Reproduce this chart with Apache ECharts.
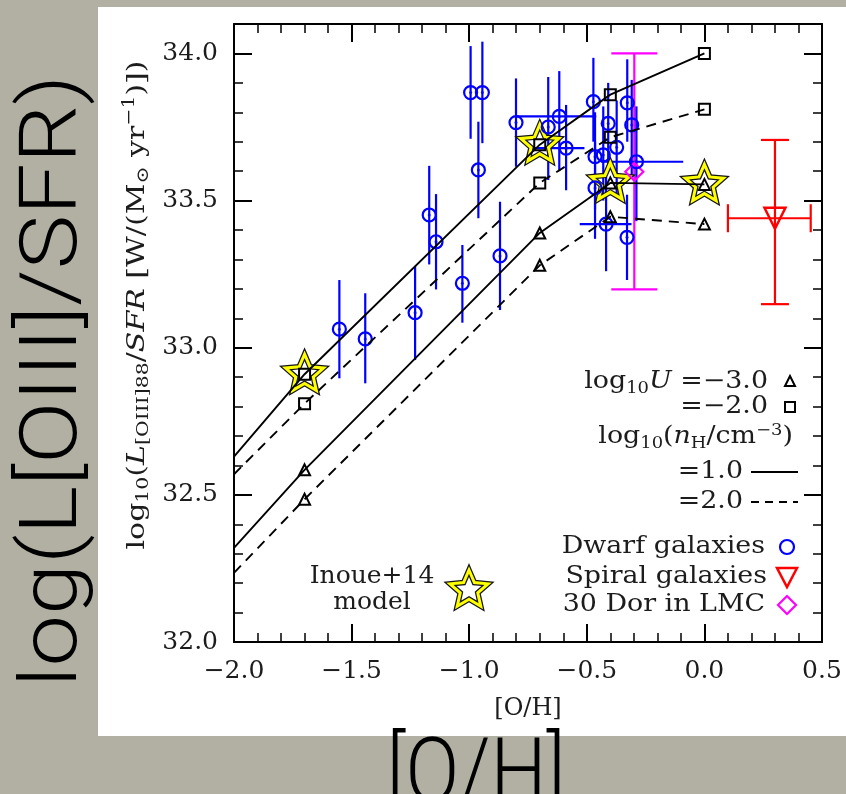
<!DOCTYPE html>
<html>
<head>
<meta charset="utf-8">
<script src="https://cdn.jsdelivr.net/npm/echarts@6/dist/echarts.min.js"></script>
<style>
  html, body { margin: 0; padding: 0; background: #b2b0a2; }
  #main { width: 846px; height: 794px; }
</style>
</head>
<body>
<div id="main"></div>
<script>
// model grid (Inoue+14 style curves)
var modelX = [-2.0, -1.7, -0.7, -0.4, 0.0];
var lineU2n1 = [32.63, 32.91, 33.69, 33.86, 34.00];   // logU=-2, nH=1 (solid)
var lineU2n2 = [32.57, 32.81, 33.56, 33.715, 33.81];  // logU=-2, nH=2 (dashed)
var lineU3n1 = [32.32, 32.585, 33.39, 33.56, 33.555]; // logU=-3, nH=1 (solid)
var lineU3n2 = [32.235, 32.485, 33.28, 33.445, 33.42]; // logU=-3, nH=2 (dashed)

var inoueX = [-1.7, -0.7, -0.4, 0.0];
var inoueY = [32.91, 33.69, 33.56, 33.555];

// dwarf galaxies
var dwarfX   = [-1.552, -1.442, -1.230, -1.170, -1.141, -1.029, -0.994, -0.961, -0.944, -0.869, -0.801, -0.664, -0.617, -0.588, -0.472, -0.465, -0.465, -0.430, -0.418, -0.409, -0.373, -0.329, -0.328, -0.309, -0.289];
var dwarfY   = [33.063, 33.030, 33.119, 33.451, 33.360, 33.219, 33.867, 33.604, 33.867, 33.312, 33.765, 33.750, 33.786, 33.678, 33.836, 33.649, 33.543, 33.655, 33.420, 33.762, 33.681, 33.375, 33.832, 33.757, 33.632];
var dwarfYLo = [32.896, 32.879, 32.958, 33.283, 33.198, 33.085, 33.710, 33.440, 33.695, 33.128, 33.615, 33.570, 33.600, 33.535, 33.700, 33.470, 33.370, 33.500, 33.260, 33.600, 33.520, 33.230, 33.700, 33.580, 33.430];
var dwarfYHi = [33.230, 33.185, 33.278, 33.618, 33.522, 33.349, 34.025, 33.768, 34.040, 33.496, 33.915, 33.920, 33.940, 33.825, 33.985, 33.800, 33.700, 33.820, 33.580, 33.900, 33.840, 33.520, 33.980, 33.910, 33.820];
var dwarfXLo = [null, null, null, null, null, null, null, null, null, null, null, null, -0.80, -0.74, null, null, null, null, -0.53, null, null, null, null, null, -0.44];
var dwarfXHi = [null, null, null, null, null, null, null, null, null, null, null, null, -0.46, -0.51, null, null, null, null, -0.31, null, null, null, null, null, -0.09];

// spiral galaxies
var spiralX = [0.30], spiralY = [33.44];
var spiralYLo = [33.148], spiralYHi = [33.706];
var spiralXLo = [0.10], spiralXHi = [0.452];

// 30 Dor in LMC
var dorX = [-0.298], dorY = [33.598];
var dorYLo = [33.198], dorYHi = [34.0];

var xTicks = [-2.0, -1.5, -1.0, -0.5, 0.0, 0.5];
var yTicks = [32.0, 32.5, 33.0, 33.5, 34.0];

var SERIF = 'DejaVu Serif';
var TXT = '#1c1c1c';

function pairs(xs, ys) { return xs.map(function (x, i) { return [x, ys[i]]; }); }

// 5 point star outline, unit radius 100
var starPts = [];
for (var k = 0; k < 10; k++) {
  var a = (-90 + 36 * k) * Math.PI / 180, r = k % 2 ? 46 : 100;
  starPts.push([r * Math.cos(a), r * Math.sin(a)]);
}
function starPoly(cx, cy, R) { return starPts.map(function (p) { return [cx + p[0] * R / 100, cy + p[1] * R / 100]; }); }
function starShapes(cx, cy, R) {
  return [
    { type: 'polygon', shape: { points: starPoly(cx, cy, R) }, style: { fill: 'none', stroke: '#151515', lineWidth: 5.5, lineJoin: 'miter' } },
    { type: 'polygon', shape: { points: starPoly(cx, cy, R) }, style: { fill: 'none', stroke: '#ffff00', lineWidth: 3, lineJoin: 'miter' } }
  ];
}

function errBars(xs, ys, lo, hi, xlo, xhi, color, cap) {
  return {
    type: 'custom', silent: true,
    data: pairs(xs, ys),
    renderItem: function (params, api) {
      var i = params.dataIndex, kids = [];
      var st = { stroke: color, lineWidth: 2.2 };
      var a = api.coord([xs[i], lo[i]]), b = api.coord([xs[i], hi[i]]);
      kids.push({ type: 'line', shape: { x1: a[0], y1: a[1], x2: b[0], y2: b[1] }, style: st });
      if (cap) {
        kids.push({ type: 'line', shape: { x1: a[0] - cap, y1: a[1], x2: a[0] + cap, y2: a[1] }, style: st });
        kids.push({ type: 'line', shape: { x1: b[0] - cap, y1: b[1], x2: b[0] + cap, y2: b[1] }, style: st });
      }
      if (xlo && xlo[i] != null) {
        var c = api.coord([xlo[i], ys[i]]), d = api.coord([xhi[i], ys[i]]);
        kids.push({ type: 'line', shape: { x1: c[0], y1: c[1], x2: d[0], y2: d[1] }, style: st });
        if (cap) {
          kids.push({ type: 'line', shape: { x1: c[0], y1: c[1] - cap, x2: c[0], y2: c[1] + cap }, style: st });
          kids.push({ type: 'line', shape: { x1: d[0], y1: d[1] - cap, x2: d[0], y2: d[1] + cap }, style: st });
        }
      }
      return { type: 'group', children: kids };
    }
  };
}

function modelLine(ys, dashed) {
  return {
    type: 'line', data: pairs(modelX, ys), showSymbol: false, silent: true,
    lineStyle: { color: '#000', width: 1.9, type: dashed ? [10, 7] : 'solid' }
  };
}

function hollow(xs, ys, symbol, size, color, width) {
  return {
    type: 'scatter', data: pairs(xs, ys), symbol: symbol, symbolSize: size, silent: true,
    itemStyle: { color: 'rgba(0,0,0,0)', borderColor: color, borderWidth: width, opacity: 1 }
  };
}

var fmt = function (v) { return v.toFixed(1).replace('-', '\u2212'); };

function xAx(pos) {
  return {
    type: 'value', min: xTicks[0], max: xTicks[xTicks.length - 1], interval: 0.5, position: pos,
    axisLine: { show: true, onZero: false, lineStyle: { color: '#000', width: 2 } },
    axisTick: { inside: true, length: 18, lineStyle: { color: '#000', width: 2 } },
    minorTick: { show: true, splitNumber: 5, length: 9, lineStyle: { color: '#000', width: 1.5 } },
    splitLine: { show: false },
    axisLabel: { show: pos === 'bottom', margin: 17, fontFamily: SERIF, fontSize: 25, color: TXT, formatter: fmt },
    name: pos === 'bottom' ? '[O/H]' : '', nameLocation: 'middle', nameGap: 55,
    nameTextStyle: { fontFamily: SERIF, fontSize: 24, color: TXT }
  };
}
function yAx(pos, step, len, line) {
  return {
    type: 'value', min: yTicks[0], max: 34.1, interval: step, position: pos,
    axisLine: { show: line, onZero: false, lineStyle: { color: '#000', width: 2 } },
    axisTick: { inside: true, length: len, lineStyle: { color: '#000', width: step > 0.2 ? 2 : 1.5 } },
    splitLine: { show: false },
    axisLabel: {
      show: line && pos === 'left', margin: 16, fontFamily: SERIF, fontSize: 25, color: TXT,
      showMaxLabel: false, formatter: fmt
    }
  };
}

var richTitle = {
  t: { fontFamily: SERIF, fontSize: 25, fill: TXT },
  i: { fontFamily: SERIF, fontSize: 25, fontStyle: 'italic', fill: TXT },
  s: { fontFamily: SERIF, fontSize: 17, fill: TXT, padding: [14, 0, 0, 0] },
  p: { fontFamily: SERIF, fontSize: 17, fill: TXT, padding: [0, 0, 14, 0] }
};
var richLeg = {
  t: { fontFamily: SERIF, fontSize: 24, fill: TXT },
  i: { fontFamily: SERIF, fontSize: 24, fontStyle: 'italic', fill: TXT },
  s: { fontFamily: SERIF, fontSize: 16, fill: TXT, padding: [13, 0, 0, 0] },
  p: { fontFamily: SERIF, fontSize: 16, fill: TXT, padding: [0, 0, 13, 0] }
};

function legText(str, x, y) {
  return {
    type: 'text', x: x, y: y, z: 50, scaleX: 1.12,
    style: { text: str, rich: richLeg, fontFamily: SERIF, fontSize: 24, fill: TXT,
      align: 'right', verticalAlign: 'middle', textAlign: 'right', textVerticalAlign: 'middle' }
  };
}
function poly(points, color, w) {
  return { type: 'polygon', z: 50, shape: { points: points }, style: { fill: 'none', stroke: color, lineWidth: w } };
}

var chart = echarts.init(document.getElementById('main'), null, { renderer: 'canvas' });
chart.setOption({
  animation: false,
  backgroundColor: '#b2b0a2',
  grid: { left: 234, top: 24, width: 588, height: 618 },
  xAxis: [xAx('bottom'), xAx('top')],
  yAxis: [yAx('left', 0.5, 18, true), yAx('left', 0.1, 9, false), yAx('right', 0.5, 18, true), yAx('right', 0.1, 9, false)],
  series: [
    errBars(dorX, dorY, dorYLo, dorYHi, null, null, '#ff00ff', 23),
    hollow(dorX, dorY, 'diamond', 18, '#ff00ff', 2.2),
    errBars(dwarfX, dwarfY, dwarfYLo, dwarfYHi, dwarfXLo, dwarfXHi, '#0000ff', 0),
    hollow(dwarfX, dwarfY, 'circle', 13, '#0000ff', 2.2),
    { type: 'scatter', data: pairs(dwarfX, dwarfY), symbol: 'circle', symbolSize: 3, silent: true, itemStyle: { color: '#0000ff' } },
    errBars(spiralX, spiralY, spiralYLo, spiralYHi, spiralXLo, spiralXHi, '#ff0000', 14),
    Object.assign(hollow(spiralX, spiralY, 'triangle', 21, '#ff0000', 2.5), { symbolRotate: 180 }),
    modelLine(lineU2n1, false),
    modelLine(lineU2n2, true),
    modelLine(lineU3n1, false),
    modelLine(lineU3n2, true),
    {
      type: 'custom', silent: true, data: pairs(inoueX, inoueY),
      renderItem: function (params, api) {
        var c = api.coord([inoueX[params.dataIndex], inoueY[params.dataIndex]]);
        return { type: 'group', children: starShapes(c[0], c[1], 20) };
      }
    },
    hollow(modelX.slice(1), lineU2n1.slice(1), 'rect', 11, '#000', 2),
    hollow(modelX.slice(1), lineU2n2.slice(1), 'rect', 11, '#000', 2),
    hollow(modelX.slice(1), lineU3n1.slice(1), 'triangle', 11, '#000', 2),
    hollow(modelX.slice(1), lineU3n2.slice(1), 'triangle', 11, '#000', 2)
  ],
  graphic: [
    { type: 'rect', z: -100, shape: { x: 98, y: 7, width: 748, height: 729 }, style: { fill: '#ffffff' } },
    {
      type: 'text', x: 56, y: 381, rotation: Math.PI / 2, scaleX: 1.15, z: 100,
      style: { text: 'log(L[OIII]/SFR)', fontFamily: 'Roboto', fontWeight: 300, fontSize: 80, fill: '#000',
        align: 'center', verticalAlign: 'middle', textAlign: 'center', textVerticalAlign: 'middle' }
    },
    {
      type: 'text', x: 476, y: 779, scaleX: 0.88, z: 100,
      style: { text: '[O/H]', fontFamily: 'Roboto', fontWeight: 300, fontSize: 90, fill: '#000',
        align: 'center', verticalAlign: 'middle', textAlign: 'center', textVerticalAlign: 'middle' }
    },
    {
      type: 'text', x: 137, y: 305, rotation: Math.PI / 2, scaleX: 1.2, z: 50,
      style: {
        text: '{t|log}{s|10}{t|(}{i|L}{s|[OIII]88}{t|/}{i|SFR}{t| [W/(M}{s|\u2299}{t| yr}{p|\u22121}{t|)])}',
        rich: richTitle, fontFamily: SERIF, fontSize: 25, fill: TXT,
        align: 'center', verticalAlign: 'middle', textAlign: 'center', textVerticalAlign: 'middle'
      }
    },
    legText('{t|log}{s|10}{i|U}{t| =\u22123.0}', 768, 382),
    poly([[790, 376], [785, 386], [795, 386]], '#000', 2),
    legText('{t|=\u22122.0}', 768, 407),
    { type: 'rect', z: 50, shape: { x: 785, y: 402, width: 10, height: 10 }, style: { fill: 'none', stroke: '#000', lineWidth: 2 } },
    legText('{t|log}{s|10}{t|(}{i|n}{s|H}{t|/cm}{p|\u22123}{t|)}', 793, 437),
    legText('{t|=1.0}', 743, 472),
    { type: 'line', z: 50, shape: { x1: 751, y1: 472, x2: 798, y2: 472 }, style: { stroke: '#000', lineWidth: 2 } },
    legText('{t|=2.0}', 743, 502),
    { type: 'line', z: 50, shape: { x1: 751, y1: 502, x2: 798, y2: 502 }, style: { stroke: '#000', lineWidth: 2, lineDash: [8, 6] } },
    legText('{t|Dwarf galaxies}', 765, 547),
    { type: 'circle', z: 50, shape: { cx: 787, cy: 547, r: 7 }, style: { fill: 'none', stroke: '#0000ff', lineWidth: 2.2 } },
    legText('{t|Spiral galaxies}', 767, 577),
    poly([[777, 568], [797, 568], [787, 587]], '#ff0000', 2.5),
    legText('{t|30 Dor in LMC}', 765, 605),
    poly([[787, 596], [796, 605], [787, 614], [778, 605]], '#ff00ff', 2.2),
    {
      type: 'text', x: 372, y: 589, z: 50,
      style: { text: 'Inoue+14\nmodel', fontFamily: SERIF, fontSize: 25, lineHeight: 26, fill: TXT,
        align: 'center', verticalAlign: 'middle', textAlign: 'center', textVerticalAlign: 'middle' }
    },
    { type: 'group', z: 50, children: starShapes(469, 590, 20) }
  ]
});
</script>
</body>
</html>
